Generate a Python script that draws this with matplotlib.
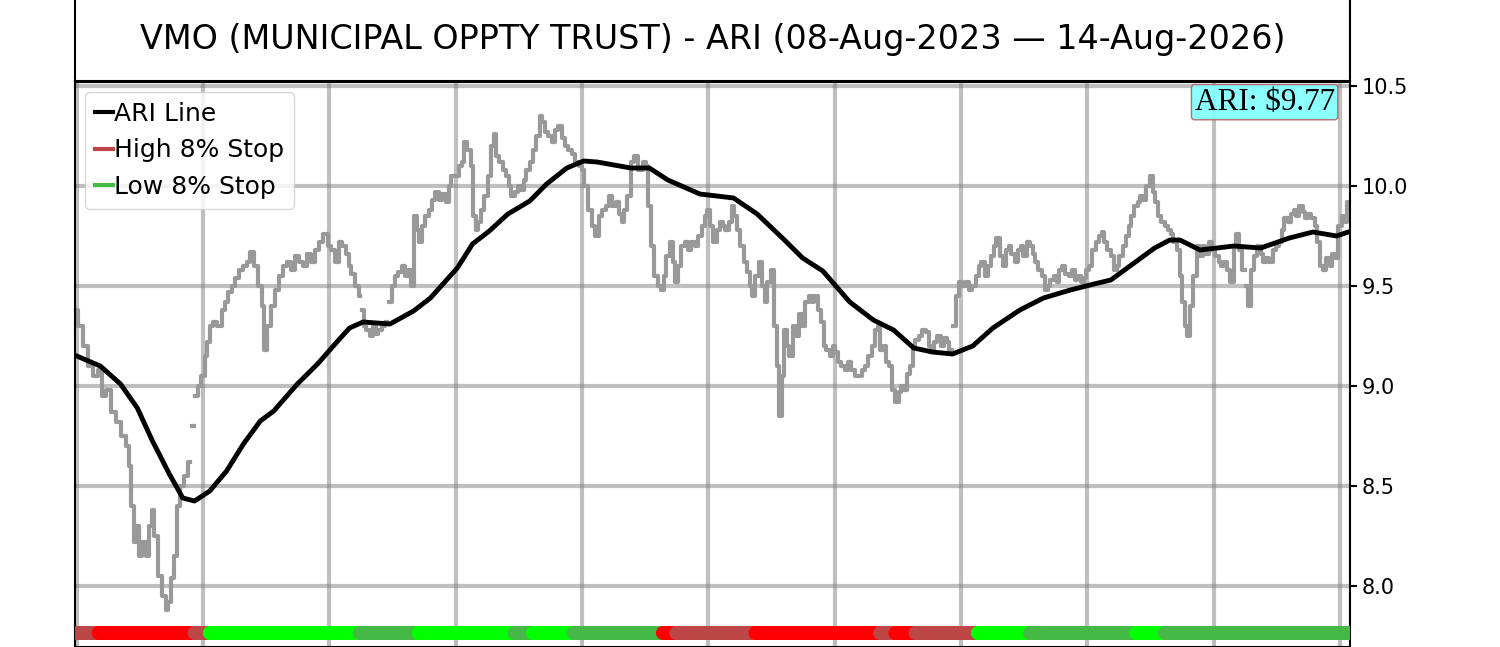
import numpy as np
import matplotlib
matplotlib.use("Agg")
import matplotlib.pyplot as plt
from matplotlib.lines import Line2D

# ---- data (trading-day index, price values) ----
title_text = "VMO (MUNICIPAL OPPTY TRUST) - ARI (08-Aug-2023 \u2014 14-Aug-2026)"
n_days = 756
ari_last = 9.77

price_day = [0, 2, 5, 8, 11, 14, 16, 19, 22, 25, 28, 30, 32, 33, 35, 36, 38, 40, 42, 44,
             45, 47, 49, 52, 54, 55, 57, 59, 60, 63, 65, 67, 68, 69, 70, 71, 73, 75, 77, 78,
             80, 82, 85, 87, 89, 91, 93, 95, 98, 100, 102, 104, 106, 109, 111, 112, 114, 117, 119, 121,
             124, 126, 128, 131, 133, 136, 138, 140, 143, 145, 148, 150, 152, 155, 156, 159, 161, 162, 164, 167,
             168, 169, 170, 171, 173, 175, 177, 178, 180, 182, 184, 185, 186, 188, 190, 192, 194, 196, 198, 199,
             201, 203, 204, 206, 208, 210, 212, 214, 216, 218, 220, 222, 223, 226, 228, 229, 231, 233, 235, 236,
             238, 239, 241, 243, 245, 247, 248, 250, 252, 254, 256, 257, 259, 261, 263, 265, 266, 268, 270, 272,
             274, 276, 277, 279, 281, 283, 285, 287, 289, 291, 293, 295, 297, 299, 301, 302, 305, 307, 309, 311,
             313, 315, 317, 319, 321, 323, 324, 326, 328, 330, 332, 335, 337, 339, 340, 342, 344, 346, 348, 349,
             351, 353, 355, 356, 358, 360, 362, 364, 366, 368, 370, 372, 374, 375, 377, 379, 381, 383, 384, 386,
             388, 390, 391, 393, 395, 397, 399, 400, 402, 404, 406, 408, 409, 411, 413, 415, 416, 418, 419, 421,
             422, 424, 426, 428, 430, 431, 434, 436, 437, 439, 441, 443, 444, 446, 448, 450, 451, 453, 455, 457,
             459, 461, 463, 465, 467, 469, 471, 473, 475, 476, 478, 480, 481, 483, 485, 487, 489, 490, 492, 494,
             496, 497, 499, 501, 503, 505, 507, 508, 510, 512, 514, 516, 517, 519, 520, 521, 523, 525, 527, 529,
             530, 533, 535, 536, 538, 540, 542, 544, 545, 547, 549, 551, 553, 554, 556, 558, 560, 561, 563, 565,
             567, 568, 570, 572, 574, 576, 577, 579, 581, 583, 584, 586, 588, 590, 592, 593, 595, 597, 599, 600,
             602, 604, 606, 608, 609, 611, 613, 615, 617, 618, 620, 622, 624, 625, 627, 629, 631, 632, 634, 636,
             638, 640, 641, 643, 645, 647, 649, 650, 652, 654, 656, 657, 659, 660, 662, 664, 666, 668, 669, 671,
             673, 675, 677, 679, 680, 682, 684, 686, 688, 689, 691, 693, 694, 695, 696, 698, 700, 702, 704, 705,
             707, 709, 711, 713, 715, 716, 718, 720, 722, 723, 725, 727, 729, 730, 732, 734, 736, 737, 739, 741,
             743, 745, 746, 748, 750, 752, 754, 755]
price_val = [9.38, 9.30, 9.20, 9.10, 9.05, 9.08, 8.95, 8.98, 8.87, 8.82, 8.75, 8.70, 8.60, 8.40, 8.22, 8.30, 8.15, 8.22, 8.15, 8.30,
             8.38, 8.25, 8.05, 7.95, 7.88, 7.92, 8.04, 8.15, 8.40, 8.50, 8.55, 8.62, np.nan, 8.80, np.nan, 8.95, 9.00, 9.05, 9.15, 9.22,
             9.30, 9.32, 9.30, 9.38, 9.42, 9.47, 9.50, 9.54, 9.58, 9.60, 9.62, 9.67, 9.60, 9.50, 9.40, 9.18, 9.30, 9.40, 9.48, 9.55,
             9.60, 9.62, 9.58, 9.65, 9.62, 9.60, 9.66, 9.62, 9.68, 9.72, 9.76, 9.70, 9.68, 9.62, 9.72, 9.70, 9.66, 9.60, 9.56, 9.50,
             9.45, np.nan, 9.38, 9.30, 9.28, 9.25, 9.30, 9.26, 9.28, 9.30, 9.32, np.nan, 9.42, 9.50, 9.55, 9.57, 9.60, 9.55, 9.58, 9.50,
             9.85, 9.78, 9.72, 9.80, 9.85, 9.88, 9.93, 9.97, 9.93, 9.96, 9.92, 10.00, 10.05, 10.05, 10.10, 10.12, 10.22, 10.18, 10.10, 9.85,
             9.78, 9.82, 9.88, 9.95, 10.05, 10.20, 10.26, 10.15, 10.12, 10.08, 10.05, 10.00, 9.95, 9.97, 10.00, 9.98, 10.03, 10.08, 10.12, 10.18,
             10.25, 10.35, 10.32, 10.27, 10.25, 10.22, 10.28, 10.30, 10.24, 10.20, 10.18, 10.16, 10.12, 10.10, 10.08, 10.00, 9.88, 9.80, 9.75, 9.85,
             9.88, 9.90, 9.95, 9.90, 9.92, 9.86, 9.82, 9.88, 9.95, 10.12, 10.15, 10.08, 10.12, 10.10, 9.90, 9.70, 9.55, 9.50, 9.48, 9.55,
             9.65, 9.72, 9.62, 9.52, 9.60, 9.70, 9.72, 9.68, 9.72, 9.70, 9.75, 9.80, 9.85, 9.88, 9.80, 9.72, 9.78, 9.82, 9.80, 9.78,
             9.82, 9.90, 9.85, 9.78, 9.70, 9.62, 9.57, 9.50, 9.45, 9.55, 9.62, 9.50, 9.42, 9.52, 9.58, 9.30, 9.10, 8.85, 9.05, 9.28,
             9.20, 9.15, 9.30, 9.25, 9.36, 9.30, 9.42, 9.45, 9.42, 9.45, 9.38, 9.32, 9.20, 9.18, 9.15, 9.20, 9.17, 9.12, 9.10, 9.08,
             9.12, 9.08, 9.05, 9.05, 9.08, 9.10, 9.15, 9.20, 9.28, 9.30, 9.18, 9.20, 9.12, 9.10, 8.98, 8.92, 8.97, 9.00, 8.98, 9.06,
             9.10, 9.20, 9.23, 9.25, 9.28, 9.27, 9.20, 9.18, 9.22, 9.25, 9.20, 9.24, 9.22, 9.18, np.nan, 9.30, 9.45, 9.52, 9.50, 9.52,
             9.48, 9.50, 9.55, 9.60, 9.62, 9.55, 9.60, 9.65, 9.70, 9.74, 9.65, 9.60, 9.68, 9.70, 9.66, 9.62, 9.68, 9.70, 9.65, 9.72,
             9.70, 9.66, 9.62, 9.58, 9.55, 9.48, 9.50, 9.53, 9.55, 9.52, 9.58, 9.60, 9.56, 9.55, 9.58, 9.53, 9.55, 9.52, 9.54, 9.58,
             9.60, 9.68, 9.72, 9.75, 9.77, 9.72, 9.68, 9.65, 9.58, 9.60, 9.65, 9.70, 9.75, 9.80, 9.85, 9.90, 9.92, 9.95, 9.93, 10.00,
             10.05, 9.97, 9.92, 9.85, 9.82, 9.80, 9.78, 9.76, 9.72, 9.68, 9.55, 9.42, 9.30, 9.25, 9.40, 9.55, 9.70, 9.65, 9.70, 9.66,
             9.72, 9.68, 9.65, 9.62, 9.60, 9.62, 9.58, 9.52, 9.70, 9.76, 9.68, 9.58, np.nan, 9.50, 9.40, 9.58, 9.65, 9.70, 9.66, 9.62,
             9.64, 9.62, 9.68, 9.70, 9.72, 9.78, 9.84, 9.82, 9.86, 9.88, 9.85, 9.90, 9.87, 9.84, 9.86, 9.84, 9.80, 9.72, 9.60, 9.58,
             9.64, 9.60, 9.66, 9.64, 9.80, 9.85, 9.82, 9.92]

ari_day = [0, 14, 26, 36, 45, 55, 63, 70, 79, 89, 99, 109, 117, 131, 143, 155, 162, 170, 186, 200,
           210, 226, 235, 245, 256, 269, 279, 291, 301, 309, 329, 340, 351, 370, 390, 404, 419, 431, 443, 459,
           473, 485, 497, 508, 520, 532, 544, 560, 574, 590, 604, 614, 627, 640, 649, 655, 667, 687, 703, 720,
           734, 748, 755]
ari_val = [9.15, 9.10, 9.01, 8.89, 8.725, 8.56, 8.44, 8.425, 8.475, 8.575, 8.71, 8.825, 8.875, 9.01, 9.11, 9.225, 9.29, 9.32, 9.31, 9.375,
           9.44, 9.59, 9.71, 9.775, 9.86, 9.925, 10.01, 10.09, 10.125, 10.12, 10.09, 10.09, 10.03, 9.96, 9.94, 9.86, 9.74, 9.64, 9.575, 9.42,
           9.33, 9.28, 9.19, 9.17, 9.16, 9.20, 9.29, 9.38, 9.44, 9.48, 9.51, 9.53, 9.61, 9.69, 9.73, 9.73, 9.68, 9.70, 9.69, 9.74,
           9.77, 9.75, 9.77]

# stop state bar: first day of each run and its state
state_start = [0, 13, 70, 79, 168, 203, 260, 271, 295, 348, 356, 403, 477, 486, 498, 535, 566, 629, 646]
state_code = ['H', 'HX', 'H', 'LX', 'L', 'LX', 'L', 'LX', 'L', 'HX', 'H', 'HX', 'H', 'HX', 'H', 'LX', 'L', 'LX', 'L']
state_colors = {'H': '#bd4747', 'HX': '#ff0000', 'L': '#45b945', 'LX': '#00ff00'}
band_level = 7.765

# ---- figure ----
fig = plt.figure(figsize=(15, 6.47), dpi=100)

tax = fig.add_axes([0.05, 1 - 81 / 647, 0.85, 81 / 647 + 0.002])
tax.set_xticks([])
tax.set_yticks([])
for s in tax.spines.values():
    s.set_linewidth(1.5)
tax.text(0.5, 0.5, title_text, ha='center', va='center', fontsize=24,
         transform=tax.transAxes)

ax = fig.add_axes([0.05, 0.0, 0.85, 1 - 82 / 647])
for s in ax.spines.values():
    s.set_linewidth(1.5)

ax.plot(price_day, price_val, color='#999999', lw=3, drawstyle='steps-mid', zorder=2)
ax.plot(ari_day, ari_val, color='black', lw=3.5, zorder=3)

# expand the state runs to one marker per day
ends = state_start[1:] + [n_days]
band_x, band_c = [], []
for st, en, code in zip(state_start, ends, state_code):
    for d in range(st, en):
        band_x.append(d)
        band_c.append(state_colors[code])
ax.scatter(band_x, [band_level] * len(band_x), c=band_c, s=100, marker='o',
           linewidths=0, zorder=4)

ax.set_xlim(-1, n_days)
ax.set_ylim(7.695, 10.52)
ax.set_xticks(np.arange(0, n_days, 75))
ax.set_xticklabels([])
ax.set_yticks([8.0, 8.5, 9.0, 9.5, 10.0, 10.5])
ax.yaxis.tick_right()
ax.tick_params(axis='y', labelsize=15, length=5, width=1.5)
ax.tick_params(axis='x', length=0)
ax.grid(True, color='gray', alpha=0.5, lw=3)
ax.set_axisbelow(True)

handles = [Line2D([], [], color='black', lw=3),
           Line2D([], [], color='#bd4747', lw=3),
           Line2D([], [], color='#45b945', lw=3)]
ax.legend(handles, ['ARI Line', 'High 8% Stop', 'Low 8% Stop'], loc='upper left',
          fontsize=18, handlelength=0.7, handletextpad=0.05, borderaxespad=0.4)

ax.text(0.988, 0.99, f"ARI: ${ari_last:.2f}", transform=ax.transAxes, ha='right', va='top',
        fontsize=22.5, family='Liberation Serif',
        bbox=dict(boxstyle='round,pad=0.1', facecolor='#80ffff', edgecolor='#b06060', alpha=0.9))

fig.savefig('out.png', dpi=100)
